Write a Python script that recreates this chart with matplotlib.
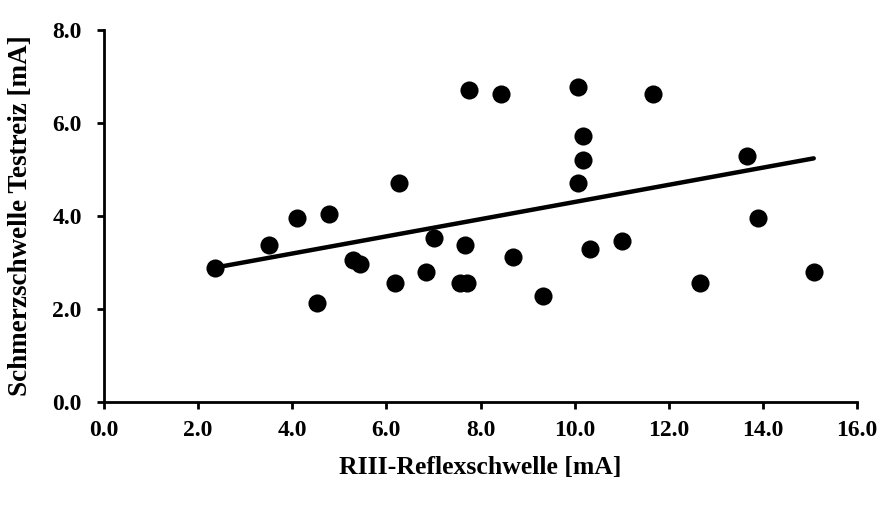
import matplotlib
matplotlib.use("Agg")
import matplotlib.pyplot as plt

riii = [2.36, 3.51, 4.11, 4.77, 4.52, 5.28, 5.44, 6.18, 6.27, 6.84, 7.01, 7.56, 7.71,
        7.68, 7.76, 8.43, 8.68, 9.33, 10.08, 10.17, 10.17, 10.08, 10.33, 11.0, 11.67,
        13.67, 13.9, 12.67, 15.08]
schmerz = [2.88, 3.38, 3.96, 4.04, 2.12, 3.05, 2.97, 2.55, 4.70, 2.80, 3.53, 2.55, 2.55,
           3.38, 6.71, 6.62, 3.12, 2.29, 6.78, 5.72, 5.20, 4.70, 3.29, 3.46, 6.62,
           5.28, 3.96, 2.55, 2.80]
# trend line as drawn in the original (start / end)
trend_x = [2.36, 15.08]
trend_y = [2.89, 5.24]
xticks = [0, 2, 4, 6, 8, 10, 12, 14, 16]
yticks = [0, 2, 4, 6, 8]

plt.rcParams['font.family'] = ['Liberation Serif', 'DejaVu Serif']
plt.rcParams['font.weight'] = 'bold'

fig = plt.figure(figsize=(8.83, 5.07), dpi=100)
ax = fig.add_axes([0.1178, 0.2071, 0.8528, 0.7337])

ax.scatter(riii, schmerz, s=170, color='black', zorder=3, linewidths=0)
ax.plot(trend_x, trend_y, color='black', lw=3.2, solid_capstyle='round', zorder=2)

ax.set_xlim(0, 16)
ax.set_ylim(0, 8)
ax.set_xticks(xticks)
ax.set_yticks(yticks)
ax.set_xticklabels(['%.1f' % v for v in xticks], fontsize=17, fontweight='bold')
ax.set_yticklabels(['%.1f' % v for v in yticks], fontsize=17, fontweight='bold')
for s in ['top', 'right']:
    ax.spines[s].set_visible(False)
for s in ['left', 'bottom']:
    ax.spines[s].set_linewidth(2)
ax.tick_params(direction='out', length=5, width=2)
ax.tick_params(axis='x', pad=8)
ax.tick_params(axis='y', pad=11)

ax.set_xlabel('RIII-Reflexschwelle [mA]', fontsize=18.5, fontweight='bold', labelpad=11)
ax.set_ylabel('Schmerzschwelle Testreiz [mA]', fontsize=19.5, fontweight='bold', labelpad=14)

fig.savefig('out.png', dpi=100)
